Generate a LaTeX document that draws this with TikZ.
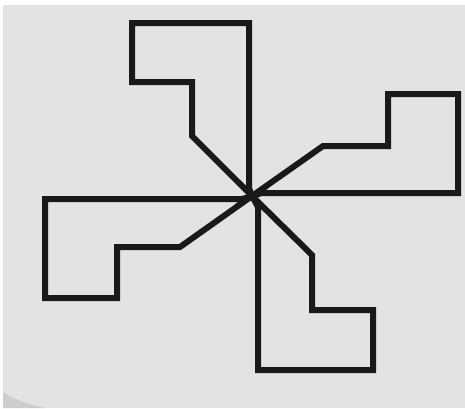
\documentclass[tikz,border=0pt]{standalone}
\usetikzlibrary{calc}

\definecolor{cardgray}{HTML}{E3E3E3}
\definecolor{edgegray}{HTML}{CDCDCD}

\begin{document}
\begin{tikzpicture}[x=1pt, y=-1pt, line join=miter]
        % Estilos
        \tikzset{blade/.style={draw=black!90, line width=6pt}}

        % Fondo
        \useasboundingbox (0,0) rectangle (465,408);
        \fill[white] (0,0) rectangle (465,408);
        \fill[cardgray] (3,5) rectangle (465,408);
        \fill[edgegray] (3,392) .. controls (15,400) and (30,405) .. (45,408) -- (3,408) -- cycle;

        % Centro
        \coordinate (centro) at (252,196);

        % Aspas
        \draw[blade] (centro) -- (249,188) -- (249,23) -- (132,23) -- (132,82) -- (192,82) -- (192,136) -- cycle;
        \draw[blade] (centro) -- (262,193) -- (458,193) -- (458,94) -- (388,94) -- (388,146) -- (323,146) -- cycle;
        \draw[blade] (centro) -- (258,207) -- (258,370) -- (373,370) -- (373,310) -- (312,310) -- (312,255) -- cycle;
        \draw[blade] (centro) -- (242,199) -- (45,199) -- (45,298) -- (117,298) -- (117,247) -- (180,247) -- cycle;
    \end{tikzpicture}
\end{document}
